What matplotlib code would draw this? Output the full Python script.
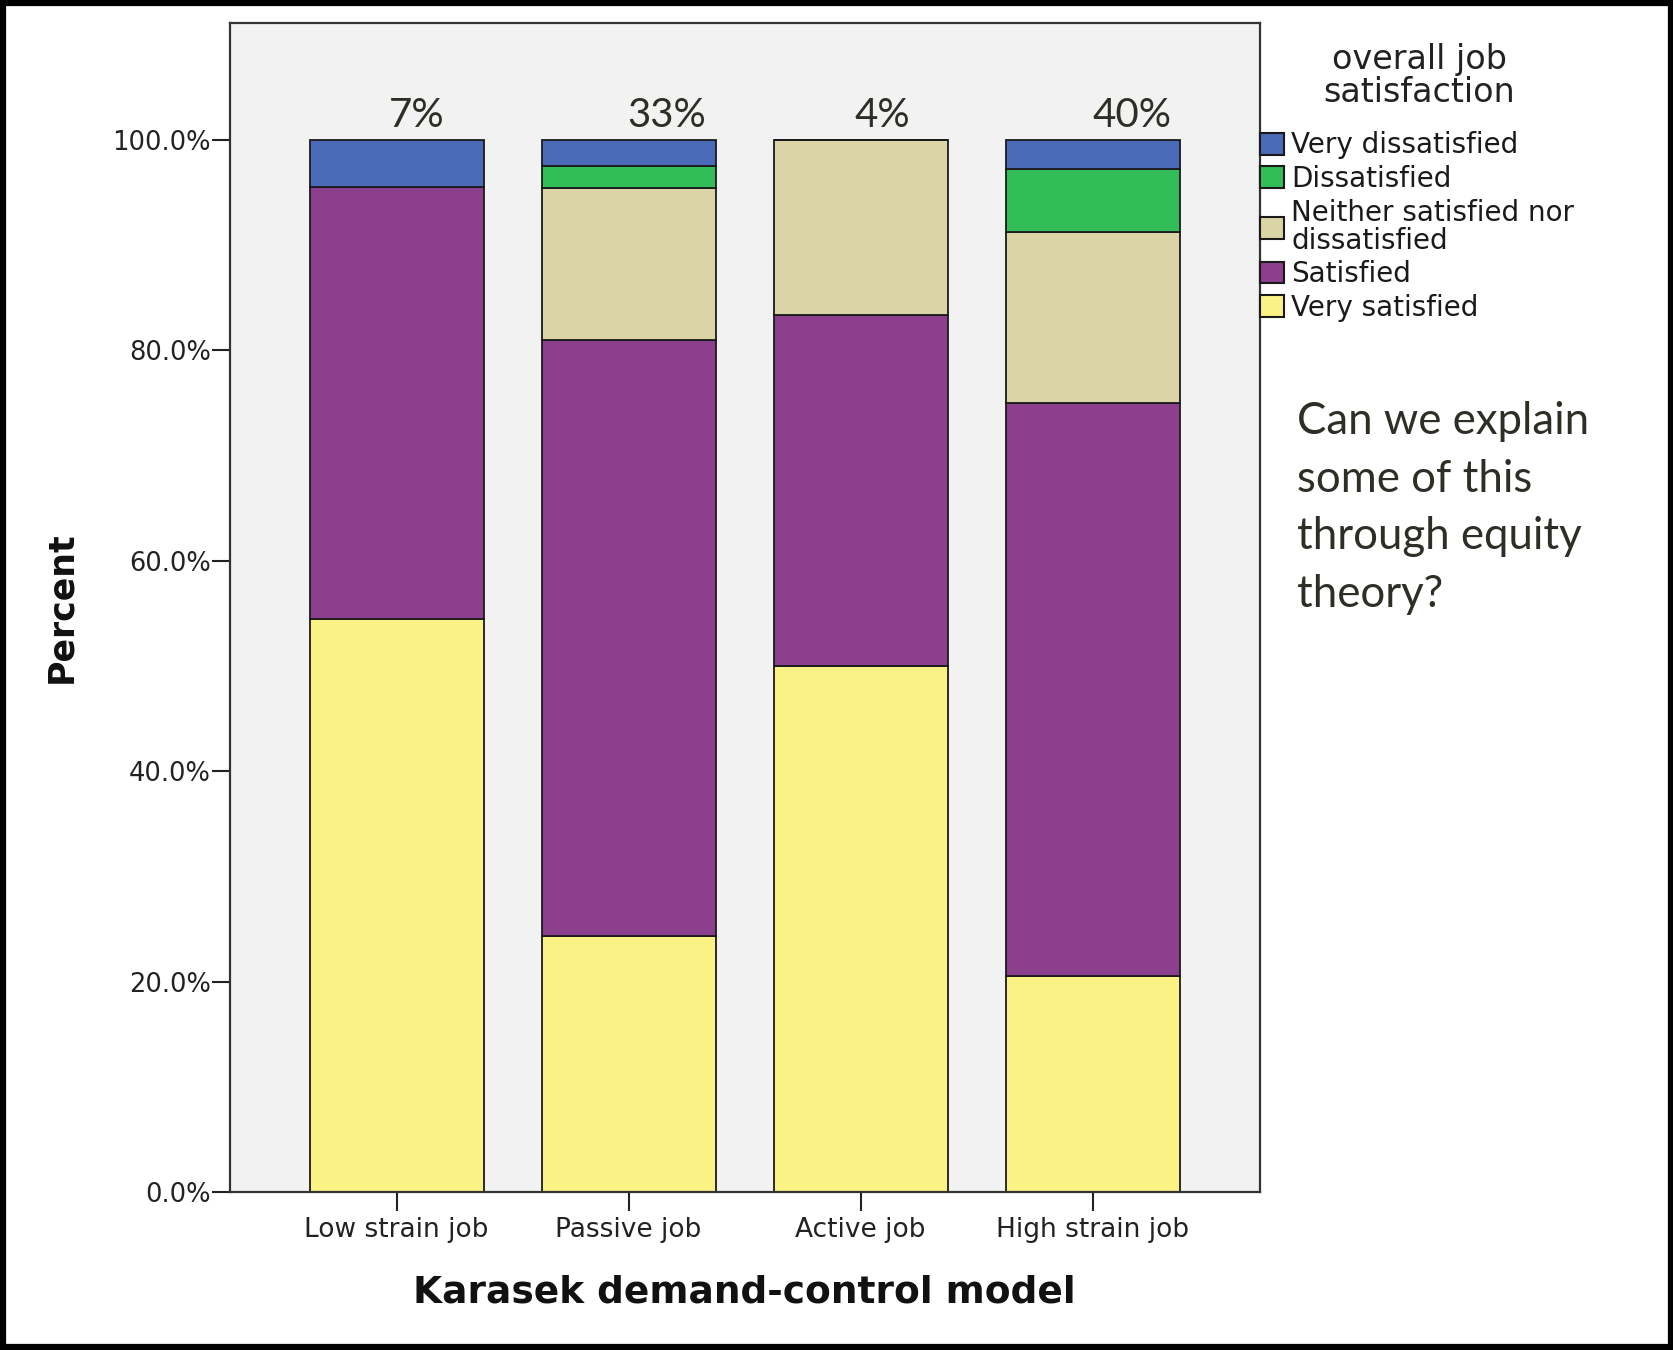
import numpy as np
import matplotlib
matplotlib.use("Agg")
import matplotlib.pyplot as plt
from matplotlib.patches import Rectangle

# Job categories of the demand-control model
jobs = ["Low strain job", "Passive job", "Active job", "High strain job"]
share_labels = ["7%", "33%", "4%", "40%"]

# Percent of each satisfaction level per job type (stacked bottom -> top)
very_satisfied = [54.5, 24.4, 50.0, 20.6]
satisfied = [41.0, 56.6, 33.3, 54.4]
neither = [0.0, 14.4, 16.7, 16.2]
dissatisfied = [0.0, 2.1, 0.0, 6.0]
very_dissatisfied = [4.5, 2.5, 0.0, 2.8]

levels = ["Very satisfied", "Satisfied", "Neither satisfied nor\ndissatisfied",
          "Dissatisfied", "Very dissatisfied"]
colors = ["#fbf286", "#8b3f8c", "#dbd4a6", "#33bd58", "#4b6bb8"]

yticks = [0, 20, 40, 60, 80, 100]


def draw():
    fig = plt.figure(figsize=(16.74, 13.5), dpi=100)
    ax = fig.add_axes([0.1371, 0.1167, 0.6155, 0.8665])
    ax.set_facecolor("#f2f2f2")

    x = np.arange(len(jobs))
    series = [very_satisfied, satisfied, neither, dissatisfied, very_dissatisfied]
    bottom = np.zeros(len(jobs))
    handles = []
    for vals, col, lab in zip(series, colors, levels):
        b = ax.bar(x, vals, 0.75, bottom=bottom, color=col, edgecolor="#1a1a1a",
                   linewidth=1.3, label=lab, zorder=2)
        handles.append(b)
        bottom += np.array(vals)

    # share of respondents in each job type, above the bars
    offsets = [0.085, 0.166, 0.094, 0.17]
    for i, (lab, off) in enumerate(zip(share_labels, offsets)):
        ax.text(x[i] + off, bottom[i] + 1.2, lab, ha="center", va="baseline",
                fontsize=29, family="Lato", color="#2e2e26")

    ax.set_xlim(-0.72, 3.72)
    ax.set_ylim(0, 111.1)
    ax.set_yticks(yticks)
    ax.set_yticklabels(["%.1f%%" % v for v in yticks])
    ax.set_xticks(x)
    ax.set_xticklabels(jobs)
    ax.tick_params(axis="y", length=13, width=1.5, pad=0.5, labelsize=18.5,
                   colors="#222222")
    ax.tick_params(axis="x", length=14, width=1.5, pad=3.5, labelsize=19,
                   colors="#222222")
    for s in ax.spines.values():
        s.set_linewidth(1.6)
        s.set_color("#333333")

    ax.set_xlabel("Karasek demand-control model", fontsize=27,
                  fontweight="bold", color="#111111")
    ax.xaxis.set_label_coords(0.5, -0.07)
    ax.set_ylabel("Percent", fontsize=25, fontweight="bold", color="#111111")
    ax.yaxis.set_label_coords(-0.147, 0.5)

    leg = ax.legend(handles[::-1], levels[::-1],
                    loc="upper left", bbox_to_anchor=(1.0, 0.907),
                    frameon=False, borderaxespad=0, borderpad=0,
                    fontsize=20, handlelength=0.88, handleheight=0.83,
                    handletextpad=0.25, labelspacing=0.2)
    for h in leg.legend_handles:
        h.set_edgecolor("#1a1a1a")
        h.set_linewidth(1.5)
    for t in leg.get_texts():
        t.set_color("#1a1a1a")
        t.set_linespacing(1.0)
    fig.text(0.848, 0.9437, "overall job\nsatisfaction", ha="center",
             va="center", fontsize=24, color="#222222", linespacing=1.02)

    fig.text(0.775, 0.6236, "Can we explain\nsome of this\nthrough equity\ntheory?",
             ha="left", va="center", fontsize=31.5, family="Lato",
             color="#2e2e26", linespacing=1.5)

    # black border round the whole figure
    fig.patches.append(Rectangle((0.002, 0.0025), 0.996, 0.995,
                                 transform=fig.transFigure, fill=False,
                                 edgecolor="black", linewidth=4.5))

    fig.savefig("out.png", dpi=100)


if __name__ == '__main__':
    draw()
